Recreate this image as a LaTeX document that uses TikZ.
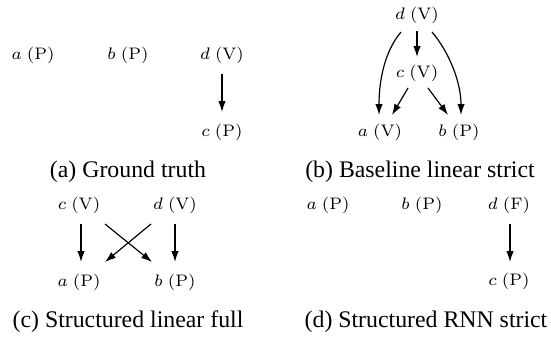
\documentclass[tikz,border=0pt]{standalone}
\usepackage{fontspec}
\newfontfamily\capfont{Liberation Serif}
\usetikzlibrary{arrows.meta,calc}
\newcommand\lb[2]{$#1$\hspace{0.3em}(#2)}
\tikzset{
  lbl/.style={inner sep=0pt, outer sep=0pt, font=\fontsize{7}{8}\selectfont},
  captxt/.style={inner sep=0pt, font=\capfont\fontsize{10}{12}\selectfont},
  arr/.style={line width=0.5pt, -{Latex[length=4.6pt,width=3.1pt]}}
}
\begin{document}
\begin{tikzpicture}[x=0.42pt,y=-0.42pt]
\useasboundingbox (0,0) rectangle (551,338);
% (a)
\node[lbl] (a1) at (33,55) {\lb{a}{P}};
\node[lbl] (b1) at (128,55) {\lb{b}{P}};
\node[lbl] (d1) at (222,55) {\lb{d}{V}};
\node[lbl] (c1) at (222,132) {\lb{c}{P}};
\draw[arr] ($(d1)+(0,19)$) -- ($(c1)+(0,-20)$);
\node[captxt] (capA) at (128,172) {(a) Ground truth};
% (b)
\node[lbl] (d2) at (417,15) {\lb{d}{V}};
\node[lbl] (c2) at (417,73) {\lb{c}{V}};
\node[lbl] (a2) at (380,132) {\lb{a}{V}};
\node[lbl] (b2) at (459,132) {\lb{b}{P}};
\draw[arr] ($(d2)+(0,16)$) -- ($(c2)+(0,-16)$);
\draw[arr] ($(d2)+(-16,17)$) .. controls ($(d2)+(-33,37)$) and ($(a2)+(-1,-50)$) .. ($(a2)+(-1,-17)$);
\draw[arr] ($(d2)+(15,17)$) .. controls ($(d2)+(32,37)$) and ($(b2)+(2,-50)$) .. ($(b2)+(2,-17)$);
\draw[arr] ($(c2)+(-9,15)$) -- ($(a2)+(12,-17)$);
\draw[arr] ($(c2)+(11,15)$) -- ($(b2)+(-11,-17)$);
\node[captxt] (capB) at (420,172) {(b) Baseline linear strict};
% (c)
\node[lbl] (c3) at (79,205) {\lb{c}{V}};
\node[lbl] (d3) at (175,205) {\lb{d}{V}};
\node[lbl] (a3) at (79,282) {\lb{a}{P}};
\node[lbl] (b3) at (175,282) {\lb{b}{P}};
\draw[arr] ($(c3)+(2,19)$) -- ($(a3)+(2,-20)$);
\draw[arr] ($(d3)+(0,19)$) -- ($(b3)+(0,-20)$);
\draw[arr] ($(c3)+(26,19)$) -- ($(b3)+(-23,-20)$);
\draw[arr] ($(d3)+(-24,19)$) -- ($(a3)+(26,-20)$);
\node[captxt] (capC) at (128,322) {(c) Structured linear full};
% (d)
\node[lbl] (a4) at (328,205) {\lb{a}{P}};
\node[lbl] (b4) at (422,205) {\lb{b}{P}};
\node[lbl] (d4) at (509,205) {\lb{d}{F}};
\node[lbl] (c4) at (509,281) {\lb{c}{P}};
\draw[arr] ($(d4)+(1,19)$) -- ($(c4)+(1,-19)$);
\node[captxt] (capD) at (426,322) {(d) Structured RNN strict};
\end{tikzpicture}
\end{document}
